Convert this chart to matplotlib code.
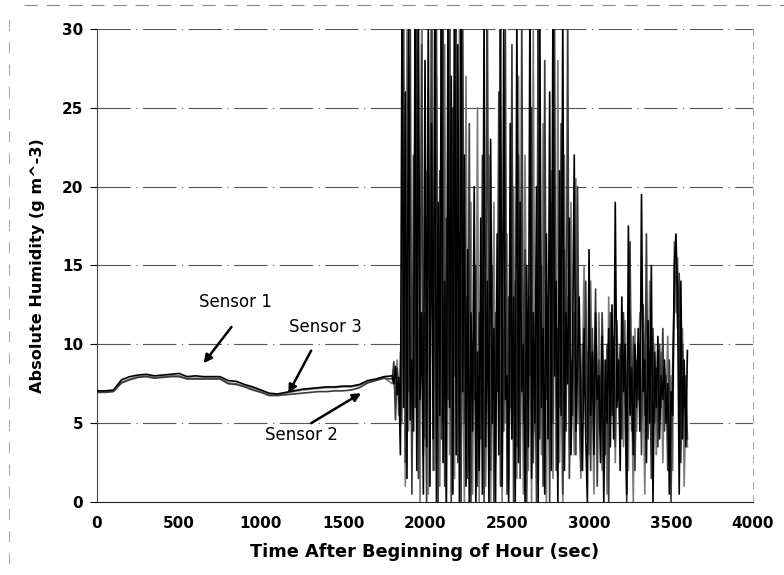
import numpy as np
import matplotlib
matplotlib.use("Agg")
import matplotlib.pyplot as plt
from matplotlib.lines import Line2D

# ---------------- data ----------------
# calm period 0..1750 s, every 50 s
t_calm = np.arange(0, 1800, 50)
s1_calm = [7.05, 7.05, 7.1, 7.75, 7.95, 8.05, 8.1, 8.0, 8.05, 8.1, 8.15, 7.95,
           8.0, 7.95, 7.95, 7.95, 7.7, 7.65, 7.45, 7.3, 7.1, 6.9, 6.85, 6.95,
           7.05, 7.15, 7.2, 7.25, 7.3, 7.3, 7.35, 7.35, 7.45, 7.7, 7.8, 7.95]
s3_calm = [7.0, 7.0, 7.05, 7.6, 7.8, 7.95, 8.0, 7.9, 7.95, 8.0, 8.0, 7.85,
           7.85, 7.85, 7.85, 7.85, 7.55, 7.5, 7.35, 7.2, 7.0, 6.8, 6.8, 6.9,
           7.0, 7.1, 7.15, 7.2, 7.25, 7.25, 7.3, 7.3, 7.4, 7.6, 7.75, 7.9]
s2_calm = [6.95, 6.95, 7.0, 7.55, 7.75, 7.9, 7.95, 7.85, 7.9, 7.95, 7.95, 7.8,
           7.8, 7.8, 7.8, 7.8, 7.5, 7.45, 7.3, 7.1, 6.95, 6.75, 6.75, 6.8,
           6.85, 6.9, 6.95, 7.0, 7.0, 7.05, 7.05, 7.1, 7.25, 7.55, 7.7, 7.85]

# turbulent period 1800..3600 s, every 10 s
t_turb = np.arange(1800, 3601, 10)
s1_turb = [8.0, 7.5, 8.6, 6.8, 7.9,
           3.0, 32, 6.0, 26, 1.5, 31,
           5.2, 9.0, 4.5, 33, 2.0, 30.5, 6.5, 12, 0.5,
           28, 3.5, 31, 1.0, 24, 4.0, 34, 0.0, 19, 5.5,
           33, 2.5, 14, 0.0, 31, 6.0, 27, 0.5, 35, 3.0,
           29, 0.0, 33, 7.0, 22, 1.0, 16, 0.0, 12, 4.5,
           20, 0.0, 9.5, 2.0, 18, 0.5, 31, 3.5, 14, 0.0,
           23, 5.0, 11, 0.0, 17, 3.0, 32, 1.0, 30, 6.5,
           8.0, 0.0, 24, 4.0, 13, 0.0, 31, 2.5, 19, 7.0,
           10, 0.0, 15, 3.5, 33, 1.5, 12, 5.0, 20, 0.0,
           31, 6.0, 11, 0.5, 17, 4.0, 26, 2.0, 32, 8.0,
           14, 0.0, 21, 5.5, 31, 2.0, 12, 7.5, 18, 3.0,
           10, 22, 4.5, 9.0, 13, 6.0, 2.0, 11, 4.0, 0.0,
           16, 5.5, 9.5, 3.0, 12, 6.5, 8.0, 2.5, 10.5, 0.0,
           9.0, 5.0, 11, 3.5, 12.5, 4.0, 19, 6.0, 9.0, 2.0,
           13, 7.0, 10, 0.5, 17.5, 5.5, 8.5, 3.0, 10, 6.0,
           11, 4.5, 19.5, 7.0, 9.0, 2.5, 11.5, 5.0, 15, 0.0,
           9.5, 6.0, 10.5, 4.0, 8.0, 6.5, 9.0, 5.0, 7.5, 0.5,
           7.0, 5.5, 15, 17, 13, 0.5, 14, 4.0, 9.0, 3.5,
           9.6]
s2_turb = [7.8, 8.9, 5.2, 8.5, 7.0,
           4.8, 9.5, 30.5, 2.5, 14, 7.0,
           31, 0.5, 22, 6.0, 33, 1.5, 9.0, 29, 3.0,
           12, 0.0, 26, 7.5, 32, 2.0, 15, 30, 0.0, 21,
           4.0, 34, 1.0, 18, 6.5, 32, 0.0, 25, 8.0, 30,
           2.5, 17, 0.0, 31, 5.0, 13, 1.5, 24, 0.0, 10,
           6.5, 15, 1.0, 12, 4.0, 22, 0.0, 9.0, 32, 5.5,
           2.0, 15, 0.0, 12, 7.0, 26, 1.0, 11, 4.5, 30,
           0.5, 13, 6.0, 29, 0.0, 14, 3.5, 22, 1.5, 31,
           5.0, 16, 0.0, 12, 8.0, 25, 2.5, 9.5, 0.0, 33,
           4.0, 15, 1.0, 28, 6.5, 13, 0.0, 19, 5.0, 30,
           2.0, 11, 6.0, 24, 0.5, 16, 4.5, 31, 1.5, 9.0,
           5.5, 12, 3.0, 20, 6.0, 2.0, 10, 7.0, 14, 4.0,
           8.5, 2.0, 11, 6.0, 13.5, 1.0, 9.0, 5.0, 12, 7.0,
           3.0, 10, 0.0, 12, 5.5, 9.0, 3.5, 11.5, 6.5, 10,
           4.0, 12, 6.0, 0.0, 9.5, 16.5, 4.5, 10.5, 2.0, 9.0,
           6.5, 10, 3.0, 12.5, 5.5, 17, 4.0, 9.5, 1.5, 11,
           5.0, 8.5, 3.5, 10, 6.0, 11, 4.5, 8.0, 2.0, 9.0,
           0.0, 8.5, 13, 16, 11, 14.5, 2.5, 10, 6.0, 8.0,
           4.0]
s3_turb = [7.5, 8.2, 6.5, 9.0, 5.5,
           9.5, 5.0, 18, 1.0, 30, 4.5,
           13, 2.0, 8.0, 27, 3.5, 11, 0.0, 32, 6.0,
           4.0, 21, 0.5, 14, 30, 6.0, 2.0, 27, 8.5, 1.0,
           12, 5.0, 29, 0.0, 16, 3.0, 22, 7.5, 1.5, 26,
           9.0, 31, 3.0, 11, 0.0, 27, 5.5, 2.0, 19, 0.5,
           13, 3.5, 25, 0.0, 10, 6.0, 16, 1.0, 8.5, 22,
           0.0, 9.0, 19, 2.5, 13, 6.0, 24, 0.0, 11, 5.0,
           17, 1.0, 9.5, 4.0, 20, 6.5, 1.5, 27, 3.0, 12,
           0.5, 22, 7.0, 2.0, 13, 0.0, 30, 4.5, 10, 1.0,
           18, 3.0, 24, 7.0, 0.0, 12, 5.5, 21, 1.5, 14,
           6.0, 28, 2.5, 9.0, 0.0, 22, 6.5, 13, 3.5, 19,
           7.5, 3.0, 20.5, 5.0, 11, 1.5, 8.5, 15, 4.5, 9.5,
           3.0, 14, 7.5, 0.5, 10, 4.5, 12, 6.5, 2.0, 9.0,
           7.0, 0.5, 13, 5.0, 8.0, 10.5, 2.5, 9.5, 7.5, 4.0,
           9.0, 3.5, 11.5, 6.0, 2.0, 13, 7.0, 0.0, 11, 4.5,
           8.0, 12, 5.0, 8.5, 0.5, 10, 6.0, 14, 3.0, 7.5,
           10, 3.0, 7.5, 5.5, 9.5, 2.5, 8.5, 6.5, 10.5, 4.0,
           8.0, 2.0, 16.5, 12, 15.5, 9.0, 5.0, 11, 1.0, 6.0,
           3.5]

x_ticks = [0, 500, 1000, 1500, 2000, 2500, 3000, 3500, 4000]
y_ticks = [0, 5, 10, 15, 20, 25, 30]

labels = ['Sensor 1', 'Sensor 3', 'Sensor 2']
label_pos = [(845, 12.7), (1391, 11.1), (1245, 4.25)]
arrow_tail = [(820, 11.1), (1306, 9.6), (1306, 5.0)]
arrow_head = [(650, 8.8), (1167, 6.9), (1610, 6.9)]

# ---------------- figure ----------------
plt.rcParams['font.family'] = ['DejaVu Sans']
fig = plt.figure(figsize=(7.84, 5.75), dpi=100)
ax = fig.add_axes([0.1237, 0.127, 0.8368, 0.8226])

t_all = np.concatenate([t_calm, t_turb])
series = [
    (np.concatenate([s3_calm, s3_turb]), '#7a7a7a', 1.2),
    (np.concatenate([s2_calm, s2_turb]), '#3a3a3a', 1.2),
    (np.concatenate([s1_calm, s1_turb]), '#000000', 1.2),
]
for y, c, lw in series:
    ax.plot(t_all, y, color=c, lw=lw, zorder=3)

ax.set_xlim(0, 4000)
ax.set_ylim(0, 30)
ax.set_xticks(x_ticks)
ax.set_yticks(y_ticks)
ax.set_xticklabels([str(v) for v in x_ticks], fontsize=11, fontweight='bold')
ax.set_yticklabels([str(v) for v in y_ticks], fontsize=11, fontweight='bold')
ax.tick_params(axis='x', length=0, pad=10)
ax.tick_params(axis='y', length=5, direction='out', pad=5, width=0.8)

for yv in y_ticks[1:]:
    ax.axhline(yv, color='#555555', lw=0.8, ls=(0, (30, 5, 1, 5)), zorder=1)

ax.spines['top'].set_visible(False)
ax.spines['right'].set_color('#aaaaaa')
ax.spines['right'].set_linestyle((0, (6, 6)))
ax.spines['right'].set_linewidth(0.8)
ax.spines['left'].set_color('#444444')
ax.spines['bottom'].set_color('#222222')

ax.set_xlabel('Time After Beginning of Hour (sec)', fontsize=12.8,
              fontweight='bold', labelpad=9)
ax.set_ylabel('Absolute Humidity (g m^-3)', fontsize=11.6,
              fontweight='bold', labelpad=12)

for lab, pos in zip(labels, label_pos):
    ax.text(pos[0], pos[1], lab, fontsize=12, ha='center', va='center',
            zorder=5)
for tail, head in zip(arrow_tail, arrow_head):
    ax.annotate('', xy=head, xytext=tail,
                arrowprops=dict(arrowstyle='-|>', color='black', lw=1.8,
                                mutation_scale=12, shrinkA=0, shrinkB=0),
                zorder=5)

# faint scan border lines
fig.add_artist(Line2D([0.03, 1.0], [0.991, 0.991], color='#888888', lw=0.8,
                      ls=(0, (12, 8)), transform=fig.transFigure))
fig.add_artist(Line2D([0.011, 0.011], [0.02, 0.98], color='#aaaaaa', lw=0.8,
                      ls=(0, (10, 10)), transform=fig.transFigure))

fig.savefig('out.png', dpi=100)
